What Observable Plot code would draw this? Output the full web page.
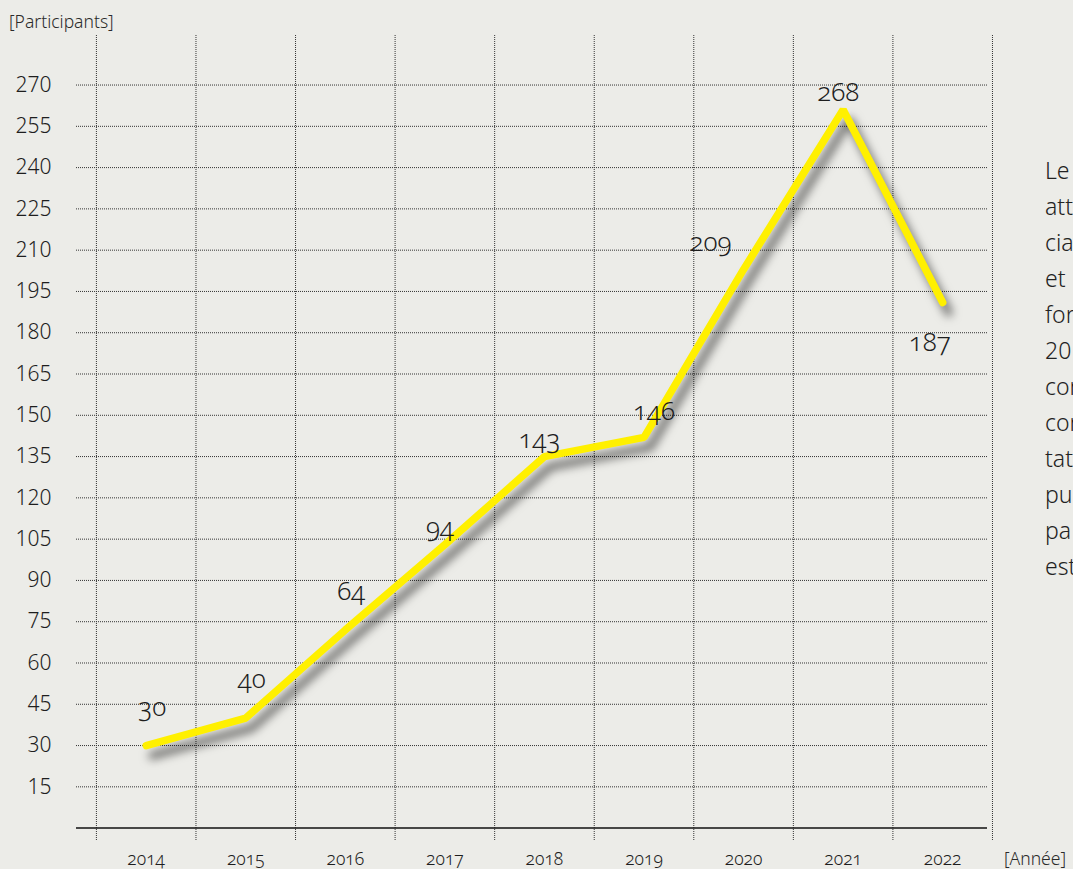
<!DOCTYPE html>
<html>
<head>
<meta charset="utf-8">
<script src="https://cdn.jsdelivr.net/npm/d3@7"></script>
<script src="https://cdn.jsdelivr.net/npm/@observablehq/plot@0.6"></script>
<style>
  html, body { margin: 0; padding: 0; background: #ecece8; }
  #wrap { position: relative; width: 1073px; height: 869px; overflow: hidden; font-family: "Noto Sans", "Open Sans", sans-serif; color: #222; background: #ecece8; }
  #chart { position: absolute; left: 0; top: 0; }
  #ytitle { position: absolute; left: 9px; top: 9px; font-size: 17.5px; font-weight: 300; color: #2a2a2a; white-space: nowrap; }
  #xtitle { position: absolute; left: 1004px; top: 846px; font-size: 17.5px; font-weight: 300; color: #2a2a2a; white-space: nowrap; }
  #side { position: absolute; left: 1045px; top: 152px; font-size: 23px; line-height: 36px; font-weight: 300; color: #222; white-space: nowrap; }
  #chart g[aria-label="line"] { filter: drop-shadow(6px 10px 5px rgba(0,0,0,0.55)); }
  #chart g[aria-label="text"] text, #chart g[aria-label="x-axis tick label"] text { font-variant-numeric: oldstyle-nums; font-feature-settings: "onum" 1; }
</style>
</head>
<body>
<div id="wrap">
  <div id="chart"></div>
  <div id="ytitle">[Participants]</div>
  <div id="xtitle">[Année]</div>
  <div id="side"></div>
</div>
<script>
// Years and participant counts (labels printed on the chart)
const years = [2014, 2015, 2016, 2017, 2018, 2019, 2020, 2021, 2022];
const participants = [30, 40, 64, 94, 143, 146, 209, 268, 187];
const drawnLine = [30, 40, 72, 103, 135, 142, 203, 261, 191];
// Y-axis tick values
const yTicks = [15, 30, 45, 60, 75, 90, 105, 120, 135, 150, 165, 180, 195, 210, 225, 240, 255, 270];
// Vertical grid boundaries between years
const gridYears = [2013.5, 2014.5, 2015.5, 2016.5, 2017.5, 2018.5, 2019.5, 2020.5, 2021.5, 2022.5];
// Cropped side text (visible fragments)
const sideText = ["Le", "att", "cia", "et", "for", "201", "con", "con", "tat", "pu", "pa", "est"];

const data = years.map((year, i) => ({year, value: participants[i], drawn: drawnLine[i]}));

const grpA = data.filter(d => d.year <= 2016);
const grpB = data.filter(d => [2017, 2018, 2021].includes(d.year));
const grpB2 = data.filter(d => d.year === 2019);
const grpC = data.filter(d => d.year === 2020);
const grpD = data.filter(d => d.year === 2022);

const font = '"Noto Sans", "Open Sans", sans-serif';
const labelOpts = {x: "year", y: "drawn", text: d => String(d.value), fontSize: 26, fill: "#1e1e1e", fontWeight: 300};

const chart = Plot.plot({
  width: 1073,
  height: 869,
  marginTop: 35,
  marginBottom: 29,
  marginLeft: 76,
  marginRight: 86,
  style: {background: "transparent", fontFamily: font, color: "#222"},
  x: {type: "linear", domain: [2013.3, 2022.45]},
  y: {domain: [-4.5, 288]},
  marks: [
    Plot.ruleY(yTicks, {stroke: "#333", strokeWidth: 1, strokeDasharray: "1,1"}),
    Plot.ruleX(gridYears, {stroke: "#333", strokeWidth: 1, strokeDasharray: "1,1"}),
    Plot.ruleY([0], {stroke: "#111", strokeWidth: 1.5}),
    Plot.axisY(yTicks, {tickSize: 0, tickPadding: 25, fontSize: 21, fontWeight: 300, fill: "#1e1e1e", label: null}),
    Plot.axisX(years, {tickSize: 0, tickPadding: 12, fontSize: 17.5, fontWeight: 300, fill: "#1e1e1e", tickFormat: d => String(d), label: null}),
    Plot.line(data, {x: "year", y: "drawn", stroke: "#fff000", strokeWidth: 7.5, strokeLinecap: "round", strokeLinejoin: "miter"}),
    Plot.text(grpA, {...labelOpts, dx: 6, dy: -38}),
    Plot.text(grpB, {...labelOpts, dx: -5, dy: -17}),
    Plot.text(grpB2, {...labelOpts, dx: 10, dy: -26}),
    Plot.text(grpC, {...labelOpts, dx: -12, dy: -27, textAnchor: "end"}),
    Plot.text(grpD, {...labelOpts, dx: -13, dy: 40})
  ]
});
document.getElementById("chart").appendChild(chart);

const side = document.getElementById("side");
sideText.forEach(t => {
  const div = document.createElement("div");
  div.textContent = t;
  side.appendChild(div);
});
</script>
</body>
</html>
